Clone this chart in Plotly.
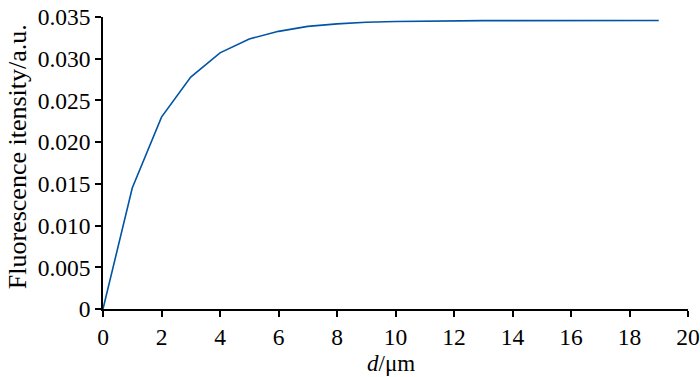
import plotly.graph_objects as go

d_um = list(range(0, 20))
intensity = [0.0, 0.0145, 0.0230, 0.0278, 0.0307, 0.03237, 0.03328, 0.03388, 0.03417,
             0.03437, 0.03446, 0.03451, 0.03454, 0.03456, 0.03457, 0.03458, 0.03458,
             0.03458, 0.03458, 0.03458]
x_ticks = list(range(0, 21, 2))
y_ticks = [0, 0.005, 0.010, 0.015, 0.020, 0.025, 0.030, 0.035]
y_tick_text = ["0", "0.005", "0.010", "0.015", "0.020", "0.025", "0.030", "0.035"]
x_title = "<i>d</i>/μm"
y_title = "Fluorescence itensity/a.u."

font = "Liberation Serif"

fig = go.Figure(go.Scatter(x=d_um, y=intensity, mode="lines",
                           line=dict(color="#0054a6", width=1.6), showlegend=False))

fig.update_layout(
    width=700, height=377,
    margin=dict(l=103, r=12, t=17, b=68),
    paper_bgcolor="white", plot_bgcolor="white",
    font=dict(family=font, size=24, color="black"),
)
fig.update_xaxes(range=[0, 20], tickvals=x_ticks, showgrid=False, zeroline=False,
                 showline=True, linecolor="black", linewidth=1.5, automargin=False,
                 ticks="outside", ticklen=6, tickwidth=1.5, tickcolor="black",
                 ticklabeloverflow="allow",
                 tickfont=dict(family=font, size=23.5))
fig.update_yaxes(range=[0, 0.035], tickvals=y_ticks, ticktext=y_tick_text, showgrid=False,
                 zeroline=False, showline=True, linecolor="black", linewidth=1.5, automargin=False,
                 ticks="outside", ticklen=6, tickwidth=1.5, tickcolor="black",
                 ticklabeloverflow="allow",
                 tickfont=dict(family=font, size=23.5))
fig.add_annotation(text=x_title, xref="paper", yref="paper", x=0.493, y=-0.187,
                   xanchor="center", yanchor="middle", showarrow=False,
                   font=dict(family=font, size=23, color="black"))
fig.add_annotation(text=y_title, xref="paper", yref="paper", x=-0.146, y=0.522,
                   xanchor="center", yanchor="middle", showarrow=False, textangle=-90,
                   font=dict(family=font, size=26, color="black"))

fig.write_html("out.html", config={"displayModeBar": False},
               post_script="document.body.style.margin='0';document.body.style.overflow='hidden';")
